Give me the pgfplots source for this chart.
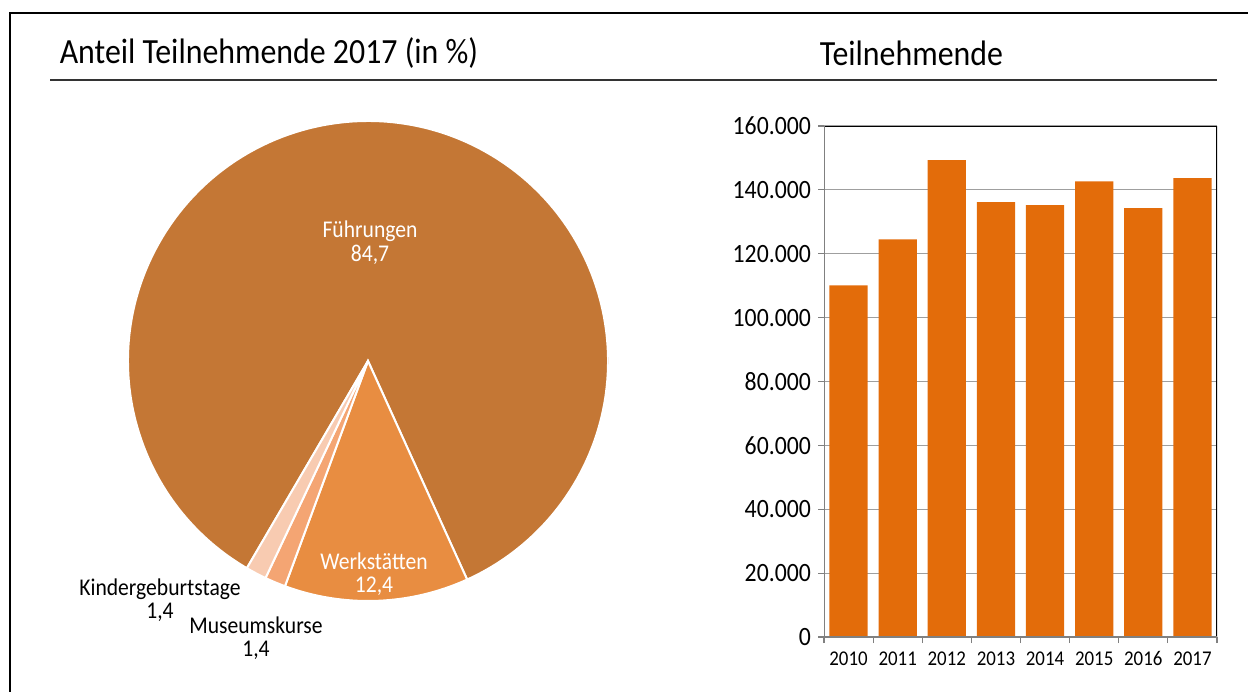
\documentclass[border=0pt]{standalone}
\usepackage{pgfplots}
\pgfplotsset{compat=1.18}
\usepackage{fontspec}
\setmainfont[FakeStretch=0.9]{Carlito}
\definecolor{fuehr}{HTML}{C47735}
\definecolor{werk}{HTML}{E88D41}
\definecolor{mus}{HTML}{F4A573}
\definecolor{kind}{HTML}{F8CBB1}
\definecolor{barc}{HTML}{E36C0A}
\begin{document}
\begin{tikzpicture}
\path[use as bounding box] (0pt,0pt) rectangle (624pt,-345.5pt);
% frame and rule
\draw[line width=1pt] (4.75pt,-346pt) -- (4.75pt,-6.3pt) -- (625pt,-6.3pt);
\draw[line width=0.75pt, black!80] (25pt,-40pt) -- (608.5pt,-40pt);
% titles
\node[anchor=base west, inner sep=0pt, font=\fontsize{17.7}{20}\selectfont] at (29.7pt,-31.7pt) {Anteil Teilnehmende 2017 (in \%)};
\node[anchor=base west, inner sep=0pt, font=\fontsize{17.7}{20}\selectfont] at (409.7pt,-32.5pt) {Teilnehmende};

% pie
\begin{axis}[at={(184pt,-180.5pt)}, anchor=center, width=240pt, height=240pt, scale only axis,
  xmin=-1, xmax=1, ymin=-1, ymax=1, hide axis]
\addplot[draw=none] coordinates {(-1,-1) (1,1)};
% Fuehrungen 84,7 ; Werkstaetten 12,4 ; Museumskurse 1,4 ; Kindergeburtstage 1,4
\fill[fuehr, draw=white, line width=1pt] (axis cs:0,0) -- ++(239.68:120pt) arc[start angle=239.68, end angle=-65.6, radius=120pt] -- cycle;
\fill[werk, draw=white, line width=1pt] (axis cs:0,0) -- ++(294.4:120pt) arc[start angle=294.4, end angle=249.76, radius=120pt] -- cycle;
\fill[mus, draw=white, line width=1pt] (axis cs:0,0) -- ++(249.76:120pt) arc[start angle=249.76, end angle=244.72, radius=120pt] -- cycle;
\fill[kind, draw=white, line width=1pt] (axis cs:0,0) -- ++(244.72:120pt) arc[start angle=244.72, end angle=239.68, radius=120pt] -- cycle;
\end{axis}

% pie labels
\begin{scope}[every node/.style={inner sep=0pt, anchor=base, font=\fontsize{12}{12}\selectfont}]
\node[white] at (185pt,-118.5pt) {Führungen};
\node[white] at (185pt,-130.5pt) {84,7};
\node[white] at (187pt,-284.7pt) {Werkstätten};
\node[white] at (187pt,-296.2pt) {12,4};
\node at (80pt,-297.5pt) {Kindergeburtstage};
\node at (80pt,-309.2pt) {1,4};
\node at (128pt,-316.7pt) {Museumskurse};
\node at (128pt,-328.3pt) {1,4};
\end{scope}

% bar chart
\begin{axis}[at={(412pt,-318.5pt)}, anchor=south west, width=196.5pt, height=255.5pt, scale only axis,
  xmin=-0.5, xmax=7.5, ymin=0, ymax=160000,
  ybar, bar width=0.78,
  xtick={0,1,2,3,4,5,6,7},
  xticklabels={2010,2011,2012,2013,2014,2015,2016,2017},
  minor xtick={-0.5,0.5,...,7.5},
  ytick={0,20000,40000,60000,80000,100000,120000,140000,160000},
  yticklabels={0,20.000,40.000,60.000,80.000,100.000,120.000,140.000,160.000},
  scaled y ticks=false,
  xtick pos=bottom, ytick pos=left,
  tick align=outside, major tick length=3pt, minor tick length=3pt,
  major x tick style={draw=none},
  minor x tick style={gray, line width=0.6pt},
  y tick style={gray, line width=0.6pt},
  ymajorgrids, grid style={gray!75, line width=0.6pt},
  axis line style={draw=none},
  xticklabel style={font=\fontsize{10.5}{12}\selectfont, text height=7.5pt, text depth=0pt},
  yticklabel style={font=\fontsize{13.2}{14}\selectfont},
  /pgf/number format/assume math mode=true]
\addplot[fill=barc, draw=none] coordinates {(0,110100) (1,124500) (2,149300) (3,136200) (4,135200) (5,142700) (6,134300) (7,143700)};
\draw[black, line width=0.75pt] (rel axis cs:0,1) -- (rel axis cs:1,1) -- (rel axis cs:1,0);
\draw[gray, line width=0.75pt] (rel axis cs:0,1) -- (rel axis cs:0,0) -- (rel axis cs:1,0);
\end{axis}
\end{tikzpicture}
\end{document}
